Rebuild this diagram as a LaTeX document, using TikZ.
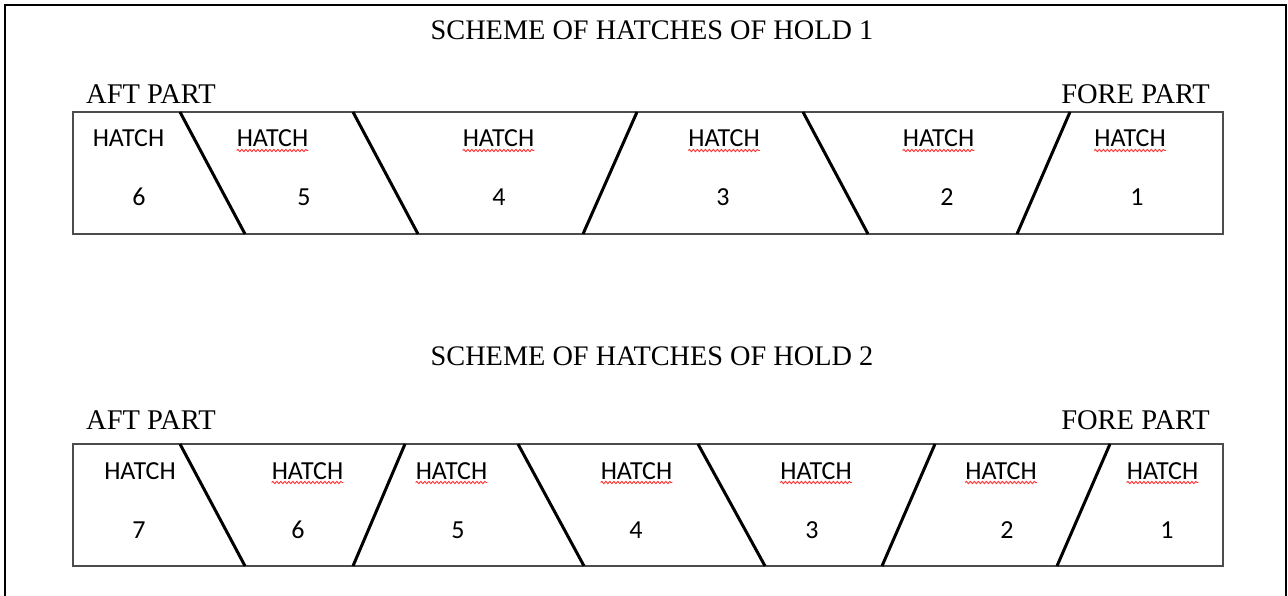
\documentclass[tikz,border=0pt]{standalone}
\usepackage{fontspec}
\setmainfont{Liberation Serif}
\newfontfamily\calib{Carlito}
\usetikzlibrary{decorations.pathmorphing}
\begin{document}
\begin{tikzpicture}[x=1pt,y=-1pt,
  titletext/.style={font=\fontsize{28.3}{30}\selectfont, anchor=base, inner sep=0pt},
  parttext/.style={font=\fontsize{28.5}{30}\selectfont, inner sep=0pt},
  hatchtext/.style={font=\calib\fontsize{26}{28}\selectfont, anchor=base, inner sep=0pt},
  holdbox/.style={draw=black!70, line width=1.3pt},
  divider/.style={draw=black, line width=3pt},
  frameline/.style={draw=black, line width=2pt},
  squig/.style={draw=red!80, line width=0.9pt, decorate,
    decoration={snake, segment length=4pt, amplitude=1.1pt}}
]
\useasboundingbox (0,0) rectangle (1288,596);
\fill[white] (0,0) rectangle (1288,596);
% outer frame (open at bottom)
\draw[frameline] (4.5,600) -- (4.5,5.5) -- (1285.5,5.5) -- (1285.5,600);

% titles
\node[titletext] (t1) at (652,40) {SCHEME OF HATCHES OF HOLD 1};
\node[titletext] (t2) at (652,365) {SCHEME OF HATCHES OF HOLD 2};

% part labels
\node[parttext, anchor=base west] (aft1) at (86,104) {AFT PART};
\node[parttext, anchor=base east] (fore1) at (1210,104) {FORE PART};
\node[parttext, anchor=base west] (aft2) at (86,429) {AFT PART};
\node[parttext, anchor=base east] (fore2) at (1210,429) {FORE PART};

% hold 1
\draw[holdbox] (73,112) rectangle (1223,234);
\foreach \a/\b in {180/245, 353/418, 637/583, 803/868, 1070/1017}
  \draw[divider] (\a,112) -- (\b,234);
\foreach \hx/\nx/\lab [count=\i] in {128.5/139/6, 272.5/304/5, 498.5/499/4, 724/723/3, 938.5/947/2, 1130/1137/1}{
  \node[hatchtext] (ha\i) at (\hx,147) {HATCH};
  \node[hatchtext] (na\i) at (\nx,206) {\lab};
  \ifnum\i>1
    \draw[squig] ([yshift=-3.5pt]ha\i.base west) -- ([yshift=-3.5pt]ha\i.base east);
  \fi
}

% hold 2
\draw[holdbox] (73,444) rectangle (1223,566);
\foreach \a/\b in {180/245, 405/353, 518/584, 698/765, 935/882, 1110/1057}
  \draw[divider] (\a,444) -- (\b,566);
\foreach \hx/\nx/\lab [count=\i] in {140/139/7, 307.5/298/6, 451.5/458/5, 636.5/636/4, 816/812/3, 1001/1007/2, 1162.5/1167/1}{
  \node[hatchtext] (hb\i) at (\hx,479) {HATCH};
  \node[hatchtext] (nb\i) at (\nx,538) {\lab};
  \ifnum\i>1
    \draw[squig] ([yshift=-3.5pt]hb\i.base west) -- ([yshift=-3.5pt]hb\i.base east);
  \fi
}
\end{tikzpicture}
\end{document}
